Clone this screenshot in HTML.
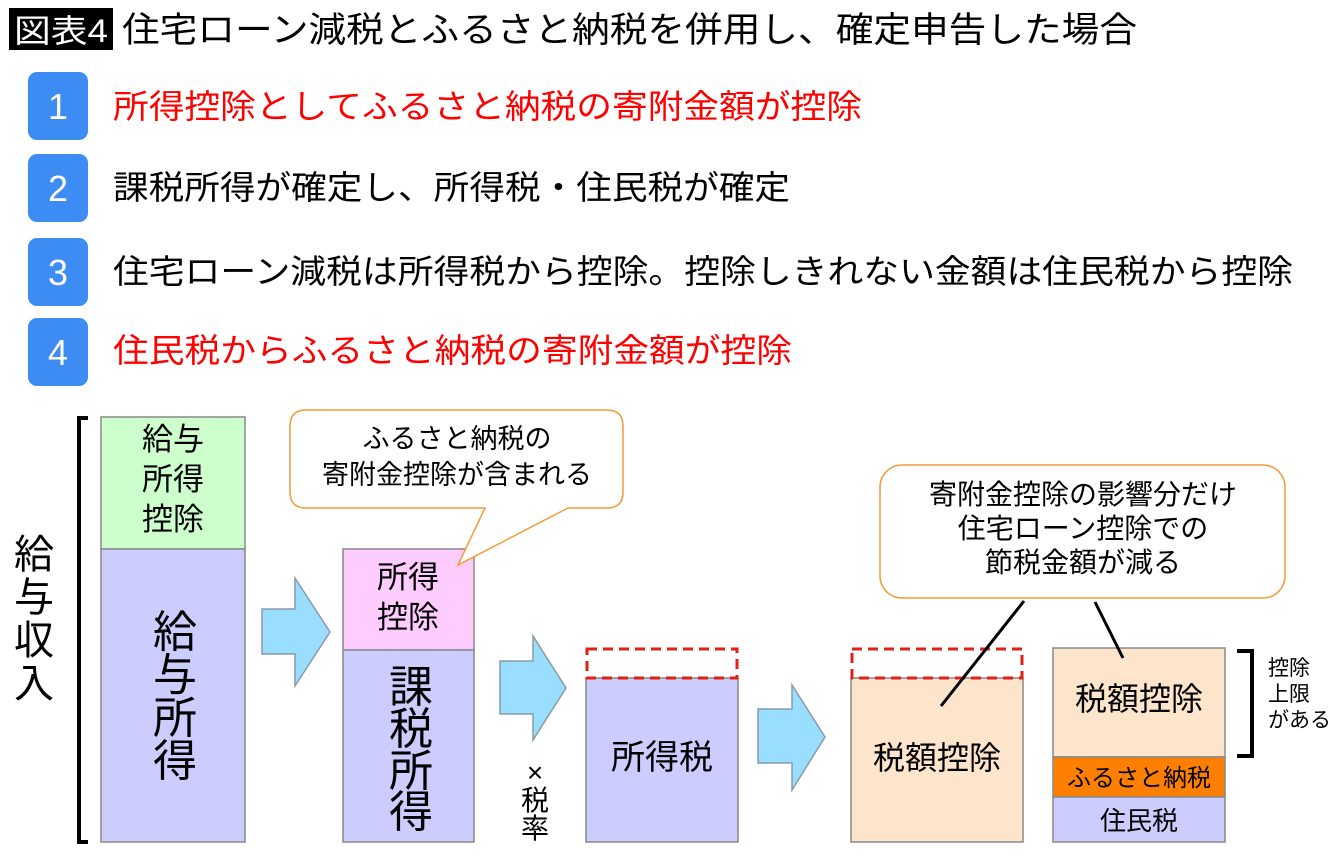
<!DOCTYPE html>
<html><head><meta charset="utf-8"><style>
html,body{margin:0;padding:0;background:#fff;}
svg{display:block;font-family:"Liberation Sans","Noto Sans CJK JP",sans-serif;}
</style></head><body>
<svg width="1340" height="856" viewBox="0 0 1340 856" xmlns="http://www.w3.org/2000/svg">
<rect x="9" y="8" width="104" height="42" fill="#000"/>
<text x="61" y="42" font-size="32" fill="#fff" text-anchor="middle" textLength="94" lengthAdjust="spacingAndGlyphs">図表4</text>
<text x="122" y="42" font-size="35" fill="#000" textLength="1015" lengthAdjust="spacingAndGlyphs">住宅ローン減税とふるさと納税を併用し、確定申告した場合</text>

<g fill="#3d8cf3">
<rect x="28" y="72" width="60" height="68" rx="9"/>
<rect x="28" y="154" width="60" height="68" rx="9"/>
<rect x="28" y="238" width="60" height="68" rx="9"/>
<rect x="28" y="318" width="60" height="68" rx="9"/>
</g>
<g fill="#fff" font-size="36" text-anchor="middle">
<text x="58" y="119">1</text><text x="58" y="201">2</text><text x="58" y="285">3</text><text x="58" y="365">4</text>
</g>
<g font-size="33">
<text x="113" y="118" fill="#ff0000" textLength="749" lengthAdjust="spacingAndGlyphs">所得控除としてふるさと納税の寄附金額が控除</text>
<text x="113" y="199" fill="#000" textLength="677" lengthAdjust="spacingAndGlyphs">課税所得が確定し、所得税・住民税が確定</text>
<text x="113" y="283" fill="#000" textLength="1180" lengthAdjust="spacingAndGlyphs">住宅ローン減税は所得税から控除。控除しきれない金額は住民税から控除</text>
<text x="113" y="362" fill="#ff0000" textLength="679" lengthAdjust="spacingAndGlyphs">住民税からふるさと納税の寄附金額が控除</text>
</g>

<path d="M88 418 H79 V842 H88" fill="none" stroke="#000" stroke-width="4"/>
<g font-size="40" text-anchor="middle" fill="#000">
<text x="34" y="568">給</text><text x="34" y="611">与</text><text x="34" y="654">収</text><text x="34" y="697">入</text>
</g>

<rect x="101" y="417" width="144" height="132" fill="#ccffcc" stroke="#888" stroke-width="1.5"/>
<rect x="101" y="549" width="144" height="293" fill="#ccccff" stroke="#888" stroke-width="1.5"/>
<g font-size="31" text-anchor="middle"><text x="173" y="450">給与</text><text x="173" y="490">所得</text><text x="173" y="530">控除</text></g>
<g font-size="44" text-anchor="middle"><text x="175" y="647">給</text><text x="175" y="690">与</text><text x="175" y="733">所</text><text x="175" y="776">得</text></g>

<g fill="#99ddff" stroke="#8a9aa8" stroke-width="1.5">
<path d="M262 609 H295 V578 L330 632 L295 686 V654 H262 Z"/>
<path d="M500 661 H533 V636 L566 688 L533 740 V714 H500 Z"/>
<path d="M758 709 H792 V685 L825 737 L792 790 V763 H758 Z"/>
</g>

<rect x="343" y="549" width="131" height="101" fill="#ffccff" stroke="#888" stroke-width="1.5"/>
<rect x="343" y="650" width="131" height="192" fill="#ccccff" stroke="#888" stroke-width="1.5"/>
<g font-size="31" text-anchor="middle"><text x="408" y="588">所得</text><text x="408" y="628">控除</text></g>
<g font-size="44" text-anchor="middle"><text x="411" y="702">課</text><text x="411" y="744">税</text><text x="411" y="786">所</text><text x="411" y="827">得</text></g>

<path d="M306 410 H607 Q623 410 623 426 V492 Q623 508 607 508 H568 L458 565 L485 508 H306 Q290 508 290 492 V426 Q290 410 306 410 Z" fill="#fff" stroke="#f39a3a" stroke-width="1.5"/>
<g font-size="27" text-anchor="middle"><text x="457" y="448">ふるさと納税の</text><text x="457" y="484">寄附金控除が含まれる</text></g>

<g font-size="28" text-anchor="middle"><text x="535" y="782">×</text><text x="535" y="810">税</text><text x="535" y="838">率</text></g>

<rect x="586" y="678" width="152" height="164" fill="#ccccff" stroke="#888" stroke-width="1.5"/>
<rect x="587" y="649" width="150" height="29" fill="none" stroke="#e0201a" stroke-width="3" stroke-dasharray="10,6"/>
<text x="662" y="769" font-size="34" text-anchor="middle">所得税</text>

<rect x="851" y="678" width="172" height="164" fill="#fde5cc" stroke="#888" stroke-width="1.5"/>
<rect x="852" y="649" width="170" height="29" fill="none" stroke="#e0201a" stroke-width="3" stroke-dasharray="10,6"/>
<text x="937" y="769" font-size="32" text-anchor="middle">税額控除</text>

<rect x="1053" y="648" width="172" height="109" fill="#fde5cc" stroke="#888" stroke-width="1.5"/>
<rect x="1053" y="757" width="172" height="40" fill="#ff8000" stroke="#888" stroke-width="1.5"/>
<rect x="1053" y="797" width="172" height="45" fill="#ccccff" stroke="#888" stroke-width="1.5"/>
<text x="1139" y="710" font-size="32" text-anchor="middle">税額控除</text>
<text x="1139" y="786" font-size="24" text-anchor="middle">ふるさと納税</text>
<text x="1139" y="830" font-size="26" text-anchor="middle">住民税</text>

<path d="M1237 651 H1252 V756 H1237" fill="none" stroke="#000" stroke-width="4"/>
<g font-size="21"><text x="1268" y="675">控除</text><text x="1268" y="701">上限</text><text x="1268" y="727">がある</text></g>

<rect x="880" y="465" width="405" height="133" rx="22" fill="#fff" stroke="#f39a3a" stroke-width="1.5"/>
<g font-size="28" text-anchor="middle"><text x="1083" y="504">寄附金控除の影響分だけ</text><text x="1083" y="538">住宅ローン控除での</text><text x="1083" y="572">節税金額が減る</text></g>
<line x1="1024" y1="601" x2="941" y2="706" stroke="#000" stroke-width="3"/>
<line x1="1095" y1="602" x2="1123" y2="658" stroke="#000" stroke-width="3"/>
</svg>
</body></html>
